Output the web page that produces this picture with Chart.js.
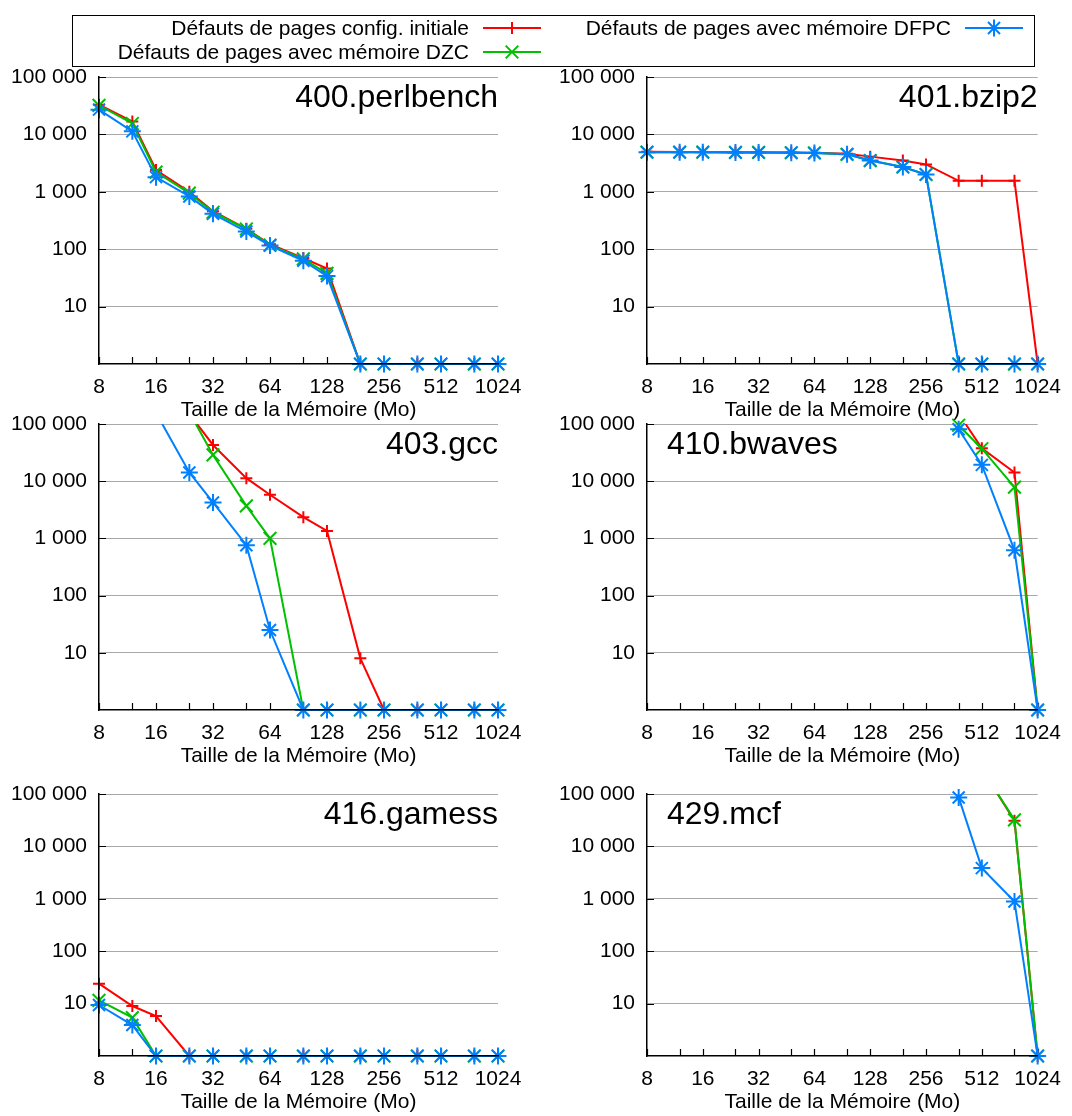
<!DOCTYPE html>
<html lang="fr">
<head>
<meta charset="utf-8">
<title>Défauts de pages selon la taille mémoire</title>
<script src="https://cdn.jsdelivr.net/npm/chart.js@4"></script>
<style>
  html, body { margin: 0; padding: 0; background: #fff; }
  body {
    position: relative; width: 1072px; height: 1116px; overflow: hidden;
    font-family: "Liberation Sans", Arial, Helvetica, sans-serif; color: #000;
  }
  canvas.panel { position: absolute; }
  #legendBox {
    position: absolute; left: 72px; top: 15px; width: 963px; height: 52px;
    box-sizing: border-box; border: 1.5px solid #000; z-index: 2;
  }
  .legend-text {
    position: absolute; font-size: 21px; line-height: 24px; white-space: nowrap; text-align: right; z-index: 3;
  }
  canvas.legend-sample { position: absolute; z-index: 3; }
</style>
</head>
<body>
<div id="legendBox"></div>

<script>
// memory sizes (Mo) on the x axis, half-octave steps
const memSizes = [8, 12, 16, 24, 32, 48, 64, 96, 128, 192, 256, 384, 512, 768, 1024];
const xTickLabels = ['8', '16', '32', '64', '128', '256', '512', '1024'];
const yTickValues = [1, 10, 100, 1000, 10000, 100000];
const yTickLabels = ['', '10', '100', '1 000', '10 000', '100 000'];
const xAxisTitle = 'Taille de la Mémoire (Mo)';

const seriesLabels = [
  'Défauts de pages config. initiale',
  'Défauts de pages avec mémoire DZC',
  'Défauts de pages avec mémoire DFPC'
];
const benchmarkNames = ['400.perlbench', '401.bzip2', '403.gcc', '410.bwaves', '416.gamess', '429.mcf'];

// page faults, one value per memory size (1 = none, null = off the chart)
const perlbenchInitial = [33000, 16800, 2400, 1000, 460, 226, 122, 70, 46, 1, 1, 1, 1, 1, 1];
const perlbenchDZC     = [32000, 15500, 2200, 950, 440, 225, 118, 68, 38, 1, 1, 1, 1, 1, 1];
const perlbenchDFPC    = [27000, 11300, 1800, 830, 413, 203, 116, 63, 34, 1, 1, 1, 1, 1, 1];

const bzip2Initial = [5000, 4950, 4950, 4900, 4900, 4850, 4800, 4600, 4100, 3500, 3000, 1550, 1550, 1550, 1];
const bzip2DZC     = [4900, 4900, 4900, 4850, 4850, 4800, 4750, 4500, 3500, 2700, 2000, 1, 1, 1, 1];
const bzip2DFPC    = [4900, 4900, 4900, 4850, 4850, 4800, 4750, 4500, 3500, 2700, 2000, 1, 1, 1, 1];

const gccInitial = [null, null, null, 150000, 43000, 11300, 5800, 2350, 1350, 8, 1, 1, 1, 1, 1];
const gccDZC     = [null, null, null, 160000, 28800, 3700, 1000, 1, 1, 1, 1, 1, 1, 1, 1];
const gccDFPC    = [null, null, 157000, 14200, 4250, 760, 25, 1, 1, 1, 1, 1, 1, 1, 1];

const bwavesInitial = [null, null, null, null, null, null, null, null, null, null, null, 152000, 37600, 14200, 1];
const bwavesDZC     = [null, null, null, null, null, null, null, null, null, null, null, 95000, 37000, 7900, 1];
const bwavesDFPC    = [null, null, null, null, null, null, null, null, null, null, null, 81000, 19300, 620, 1];

const gamessInitial = [24, 9, 5.8, 1, 1, 1, 1, 1, 1, 1, 1, 1, 1, 1, 1];
const gamessDZC     = [11.5, 5.4, 1, 1, 1, 1, 1, 1, 1, 1, 1, 1, 1, 1, 1];
const gamessDFPC    = [9.4, 3.9, 1, 1, 1, 1, 1, 1, 1, 1, 1, 1, 1, 1, 1];

const mcfInitial = [null, null, null, null, null, null, null, null, null, null, null, null, 300000, 31000, 1];
const mcfDZC     = [null, null, null, null, null, null, null, null, null, null, null, null, 300000, 32000, 1];
const mcfDFPC    = [null, null, null, null, null, null, null, null, null, null, null, 86000, 3850, 890, 1];

const Y_MAX = 100000;
const FONT = '"Liberation Sans", Arial, Helvetica, sans-serif';

// series styles: red +, green x, blue *
const seriesStyles = [
  { color: '#ff0000', pointStyle: 'cross', radius: 6 },
  { color: '#00c000', pointStyle: 'crossRot', radius: 9 },
  { color: '#0080ff', pointStyle: 'star', radius: 8.5 }
];

// plot areas in page pixels
const colBounds = [[99, 498], [647, 1046]];
const rowBounds = [[77, 364], [424, 710], [794, 1056]];

const panels = [
  { name: benchmarkNames[0], align: 'right', series: [perlbenchInitial, perlbenchDZC, perlbenchDFPC] },
  { name: benchmarkNames[1], align: 'right', series: [bzip2Initial, bzip2DZC, bzip2DFPC] },
  { name: benchmarkNames[2], align: 'right', series: [gccInitial, gccDZC, gccDFPC] },
  { name: benchmarkNames[3], align: 'left', series: [bwavesInitial, bwavesDZC, bwavesDFPC] },
  { name: benchmarkNames[4], align: 'right', series: [gamessInitial, gamessDZC, gamessDFPC] },
  { name: benchmarkNames[5], align: 'left', series: [mcfInitial, mcfDZC, mcfDFPC] }
];

Chart.defaults.font.family = FONT;
Chart.defaults.font.size = 21;
Chart.defaults.color = '#000';

// short inward tick marks like gnuplot
const innerTicks = {
  id: 'innerTicks',
  beforeDatasetsDraw(chart) {
    const { ctx, chartArea: a, scales: { x, y } } = chart;
    ctx.save();
    ctx.strokeStyle = '#000';
    ctx.lineWidth = 1.2;
    ctx.beginPath();
    yTickValues.forEach(v => {
      if (v <= 1) return;
      const py = Math.round(y.getPixelForValue(v)) + 0.5;
      ctx.moveTo(a.left, py);
      ctx.lineTo(a.left + 7, py);
    });
    memSizes.forEach(v => {
      const px = Math.round(x.getPixelForValue(v)) + 0.5;
      ctx.moveTo(px, a.bottom);
      ctx.lineTo(px, a.bottom - 7);
    });
    ctx.stroke();
    ctx.restore();
  }
};

// benchmark name written inside the plot
const panelTitle = {
  id: 'panelTitle',
  afterDraw(chart, args, opts) {
    const { ctx, chartArea: a } = chart;
    ctx.save();
    ctx.font = '32px ' + FONT;
    ctx.fillStyle = '#000';
    ctx.textBaseline = 'alphabetic';
    ctx.textAlign = opts.align;
    ctx.fillText(opts.text, opts.align === 'right' ? a.right : a.left + 20, a.top + 30);
    ctx.restore();
  }
};

function toPoints(values) {
  return memSizes.map((m, i) => ({ x: m, y: values[i] }));
}

function buildDatasets(series) {
  const datasets = [];
  // index 0 is drawn last, so put blue first
  for (let s = series.length - 1; s >= 0; s--) {
    const st = seriesStyles[s];
    const pts = toPoints(series[s]);
    datasets.push({
      label: seriesLabels[s] + ' (points)',
      data: pts,
      showLine: false,
      clip: false,
      pointStyle: st.pointStyle,
      pointRadius: ctx => (ctx.raw && ctx.raw.y != null && ctx.raw.y <= Y_MAX) ? st.radius : 0,
      pointBorderWidth: 2,
      pointBorderColor: st.color,
      pointBackgroundColor: st.color
    });
    datasets.push({
      label: seriesLabels[s],
      data: pts,
      borderColor: st.color,
      borderWidth: 2,
      pointRadius: 0,
      fill: false,
      tension: 0,
      spanGaps: false,
      clip: { left: 10, top: 0, right: 10, bottom: 10 }
    });
  }
  return datasets;
}

function makePanel(p, index) {
  const row = Math.floor(index / 2);
  const col = index % 2;
  const [left, right] = colBounds[col];
  const [top, bottom] = rowBounds[row];
  const canvasLeft = col * 536;
  const canvasTop = top - 40;
  const width = 536;
  const height = bottom - top + 100;

  const canvas = document.createElement('canvas');
  canvas.className = 'panel';
  canvas.width = width;
  canvas.height = height;
  canvas.style.left = canvasLeft + 'px';
  canvas.style.top = canvasTop + 'px';
  canvas.style.width = width + 'px';
  canvas.style.height = height + 'px';
  document.body.appendChild(canvas);

  const yWidth = left - canvasLeft;

  new Chart(canvas.getContext('2d'), {
    type: 'line',
    data: { datasets: buildDatasets(p.series) },
    options: {
      responsive: false,
      animation: false,
      devicePixelRatio: 1,
      events: [],
      layout: {
        autoPadding: false,
        padding: { top: 40, left: 0, bottom: 0, right: canvasLeft + width - right }
      },
      scales: {
        x: {
          type: 'logarithmic',
          min: 8,
          max: 1024,
          afterBuildTicks: s => { s.ticks = memSizes.map(v => ({ value: v })); },
          afterFit: s => { s.height = 60; },
          ticks: {
            autoSkip: false,
            maxRotation: 0,
            padding: 11,
            color: '#000',
            callback: v => xTickLabels.includes(String(v)) ? String(v) : ''
          },
          grid: { display: false, drawTicks: false },
          border: { display: true, color: '#000', width: 1.5, z: 1 },
          title: {
            display: true,
            text: xAxisTitle,
            color: '#000',
            font: { size: 21 },
            padding: { top: 0, bottom: 1 }
          }
        },
        y: {
          type: 'logarithmic',
          min: 1,
          max: Y_MAX,
          afterBuildTicks: s => { s.ticks = yTickValues.map(v => ({ value: v })); },
          afterFit: s => { s.width = yWidth; },
          ticks: {
            padding: 12,
            color: '#000',
            callback: v => {
              const i = yTickValues.indexOf(v);
              return i >= 0 ? yTickLabels[i] : '';
            }
          },
          grid: {
            drawTicks: false,
            lineWidth: 1,
            color: c => (c.tick && c.tick.value === 1) ? 'rgba(0,0,0,0)' : '#a8a8a8'
          },
          border: { display: true, color: '#000', width: 1.5, z: 1 }
        }
      },
      plugins: {
        legend: { display: false },
        tooltip: { enabled: false },
        panelTitle: { text: p.name, align: p.align }
      }
    },
    plugins: [innerTicks, panelTitle]
  });
}

// legend: text right-aligned, sample line with marker on its right
const legendSlots = [
  { textRight: 469, cy: 28 },
  { textRight: 469, cy: 52 },
  { textRight: 951, cy: 28 }
];

function drawMarker(ctx, style, r, x, y) {
  ctx.beginPath();
  if (style === 'cross' || style === 'star') {
    ctx.moveTo(x - r, y); ctx.lineTo(x + r, y);
    ctx.moveTo(x, y - r); ctx.lineTo(x, y + r);
  }
  if (style === 'crossRot' || style === 'star') {
    const d = r * Math.SQRT1_2;
    ctx.moveTo(x - d, y - d); ctx.lineTo(x + d, y + d);
    ctx.moveTo(x - d, y + d); ctx.lineTo(x + d, y - d);
  }
  ctx.stroke();
}

function buildLegend() {
  seriesLabels.forEach((label, i) => {
    const slot = legendSlots[i];
    const st = seriesStyles[i];

    const text = document.createElement('div');
    text.className = 'legend-text';
    text.textContent = label;
    text.style.right = (1072 - slot.textRight) + 'px';
    text.style.top = (slot.cy - 12) + 'px';
    document.body.appendChild(text);

    const c = document.createElement('canvas');
    c.className = 'legend-sample';
    c.width = 60;
    c.height = 22;
    c.style.left = (slot.textRight + 13) + 'px';
    c.style.top = (slot.cy - 11) + 'px';
    document.body.appendChild(c);
    const ctx = c.getContext('2d');
    ctx.strokeStyle = st.color;
    ctx.lineWidth = 2;
    ctx.beginPath();
    ctx.moveTo(1, 11);
    ctx.lineTo(59, 11);
    ctx.stroke();
    drawMarker(ctx, st.pointStyle, st.radius, 30, 11);
  });
}

panels.forEach(makePanel);
buildLegend();
</script>
</body>
</html>
